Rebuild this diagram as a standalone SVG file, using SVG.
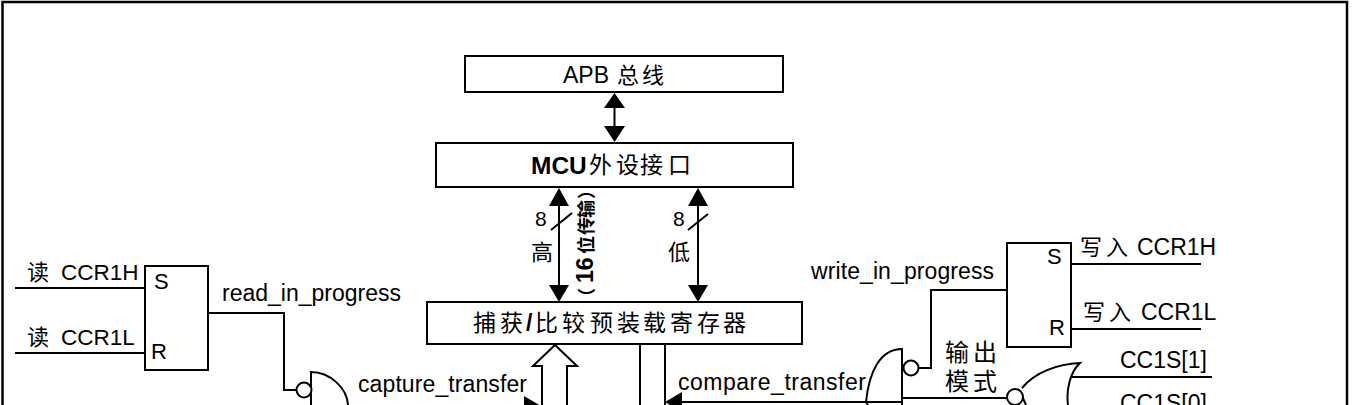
<svg xmlns="http://www.w3.org/2000/svg" width="1352" height="405" viewBox="0 0 1352 405">
<style>
text{font-family:"Liberation Sans","Noto Sans CJK SC",sans-serif;font-size:23px;fill:#000}
.cjk{font-size:22px}
.b{font-weight:bold}
.box{fill:#fff;stroke:#000;stroke-width:2}
.w{fill:none;stroke:#000;stroke-width:2}
.a{fill:#000;stroke:none}
.inv{fill:#fff;stroke:#000;stroke-width:2}
</style>
<rect width="1352" height="405" fill="#fff"/>
<path d="M2.500 405V2H1347V405" fill="none" stroke="#000" stroke-width="2.500"/>
<g id="connectors">
<path class="w" d="M614.500 106V128M559 204V287M698 204V287"/>
<polygon class="a" points="614.500,93 625,108 604,108"/>
<polygon class="a" points="614.500,142 625,126 604,126"/>
<polygon class="a" points="559,188 569,206 549,206"/>
<polygon class="a" points="559,302 569,285 549,285"/>
<polygon class="a" points="698,188 708,206 688,206"/>
<polygon class="a" points="698,302 708,285 688,285"/>
<path class="w" d="M551 230L572 213M688 230L708 214" stroke-width="1.500"/>
<path class="w" d="M15 288H145M15 353H145M208 313H284V390H296"/>
<path class="w" d="M902 402H682M918 368H931V290H1007M1071 264H1201M1071 329H1201M902 398H1007M1072 377H1212"/>
<polygon class="a" points="665,402 682,392 682,412"/>
<polygon class="a" points="541,406 524,396 524,416"/>
<path class="box" d="M542 405V366H533L555 345L577 366H567V405"/>
<path class="w" d="M640 344V405M665 344V405"/>
</g>
<g id="apb-bus"><rect class="box" x="465" y="56" width="318" height="36"/><text x="563" y="83">APB</text><text class="cjk" x="617 642" y="83">总线</text></g>
<g id="mcu-interface"><rect class="box" x="436" y="143" width="357" height="44"/><text class="b" x="531" y="174" style="font-size:24.500px">MCU</text><text class="cjk" x="589 616 640 668" y="173" style="font-size:23px">外设接口</text></g>
<g id="bus-labels">
<text x="535" y="226" style="font-size:21px">8</text><text x="673" y="226" style="font-size:21px">8</text>
<text class="cjk" x="531" y="260">高</text><text class="cjk" x="668" y="260">低</text>
<text class="b" transform="translate(593 300) rotate(-90)" style="font-size:18px" x="-6" y="0">（</text>
<text class="b" transform="translate(593 300) rotate(-90)" style="font-size:23px" x="17" y="0">16</text>
<text class="b" transform="translate(593 300) rotate(-90)" style="font-size:18px" x="46 65 82 101" y="0">位传输）</text>
</g>
<g id="capture-compare-register"><rect class="box" x="427" y="302" width="375" height="42"/><text x="473 500" y="331">捕获</text><text class="b" x="526" y="331">/</text><text x="535 562 590 617 643 670 697 723" y="331">比较预装载寄存器</text></g>
<g id="read-latch"><rect class="box" x="145" y="266" width="63" height="104"/><text x="154" y="289" style="font-size:22px">S</text><text x="151" y="359" style="font-size:22px">R</text></g>
<g id="read-labels">
<text class="cjk" x="27" y="280">读</text><text x="61" y="280" style="font-size:22.500px">CCR1H</text>
<text class="cjk" x="27" y="345">读</text><text x="61" y="345" style="font-size:22.500px">CCR1L</text>
<text x="222" y="301">read_in_progress</text>
</g>
<g id="capture-gate"><path class="w" d="M311 405V372C330 372 347 388 348 405"/><circle class="inv" cx="304" cy="390" r="7.500"/><text x="358" y="392" textLength="169">capture_transfer</text></g>
<g id="compare-gate"><path class="w" d="M902 405V349C880 349 869 372 866 402L868 405"/><circle class="inv" cx="911" cy="368" r="7.500"/><text x="678" y="390" textLength="188">compare_transfer</text></g>
<g id="output-mode"><text class="cjk" x="945 973" y="361" style="font-size:24px">输出</text><text class="cjk" x="945 973" y="390" style="font-size:24px">模式</text></g>
<g id="write-latch"><rect class="box" x="1007" y="243" width="64" height="104"/><text x="1047" y="264" style="font-size:22px">S</text><text x="1049" y="335" style="font-size:22px">R</text></g>
<g id="write-labels">
<text class="cjk" x="1080 1106" y="255">写入</text><text x="1137" y="255">CCR1H</text>
<text class="cjk" x="1083 1109" y="320">写入</text><text x="1141" y="320">CCR1L</text>
<text x="811" y="279" textLength="183">write_in_progress</text>
</g>
<g id="mode-gate"><path class="w" d="M1022 388C1035 372 1058 364 1080 363C1070 372 1066 390 1068 405M1022 396L1026 405"/><circle class="inv" cx="1015" cy="397" r="8"/><text x="1120" y="368">CC1S[1]</text><text x="1120" y="411">CC1S[0]</text></g>
</svg>
